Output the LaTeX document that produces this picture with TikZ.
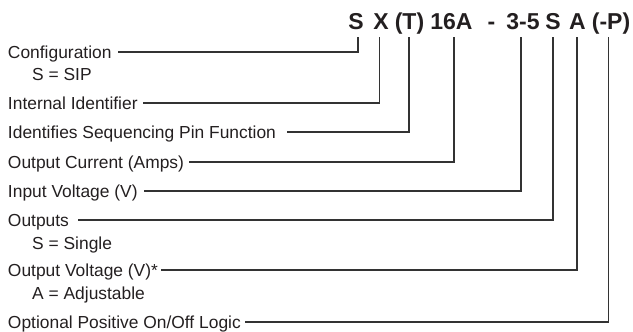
\documentclass[tikz,border=0pt]{standalone}
\usepackage{fontspec}
\setmainfont{Liberation Sans}
\definecolor{txt}{HTML}{231F20}
\definecolor{ln}{HTML}{333333}
\begin{document}
\begin{tikzpicture}[x=1pt,y=-1pt,
  lbl/.style={anchor=west,inner sep=0pt,outer sep=0pt,text height=12.5pt,text depth=0pt,font=\fontsize{17.4}{20}\selectfont,text=txt},
  sub/.style={anchor=base west,inner sep=0pt,font=\fontsize{17.4}{20}\selectfont,text=txt},
  hdr/.style={anchor=base,inner sep=0pt,font=\fontsize{23}{27}\selectfont\bfseries,text=txt},
  conn/.style={draw=ln,line width=1.2pt}]
\useasboundingbox (0,0) rectangle (633,332);
% header
\node[hdr] (h1) at (356,29) {S};
\node[hdr] (h2) at (381,29) {X};
\node[hdr] (h3) at (409.5,29) {(T)};
\node[hdr] (h4) at (451.5,29) {16A};
\node[hdr] (h5) at (491.5,29) {-};
\node[hdr] (h6) at (523,29) {3-5};
\node[hdr] (h7) at (553,29) {S};
\node[hdr] (h8) at (577.5,29) {A};
\node[hdr] (h9) at (611,29) {(-P)};
% connector tops
\coordinate (t1) at (358,37);
\coordinate (t2) at (379.5,37);
\coordinate (t3) at (409,37);
\coordinate (t4) at (454,37);
\coordinate (t5) at (521,37);
\coordinate (t6) at (553,37);
\coordinate (t7) at (577,37);
\coordinate (t8) at (608.5,37);
% labels
\node[lbl] (l1) at (8,52) {Configuration};
\node[sub] (s1) at (32,80.5) {S = SIP};
\node[lbl] (l2) at (8,103) {Internal Identifier};
\node[lbl] (l3) at (8,132) {Identifies Sequencing Pin Function};
\node[lbl] (l4) at (8,162) {Output Current (Amps)};
\node[lbl] (l5) at (8,191) {Input Voltage (V)};
\node[lbl] (l6) at (8,220) {Outputs};
\node[sub] (s6) at (32,249) {S = Single};
\node[lbl] (l7) at (8,270) {Output Voltage (V)*};
\node[sub] (s7) at (32,299) {A = Adjustable};
\node[lbl] (l8) at (8,322) {Optional Positive On/Off Logic};
% connectors
\draw[conn,shorten >=6.5pt] (t1) |- (l1);
\draw[conn,shorten >=5.5pt] (t2) |- (l2);
\draw[conn,shorten >=11pt] (t3) |- (l3);
\draw[conn,shorten >=5pt] (t4) |- (l4);
\draw[conn,shorten >=6pt] (t5) |- (l5);
\draw[conn,shorten >=9.5pt] (t6) |- (l6);
\draw[conn,shorten >=3pt] (t7) |- (l7);
\draw[conn,shorten >=4pt] (t8) |- (l8);
\end{tikzpicture}
\end{document}
